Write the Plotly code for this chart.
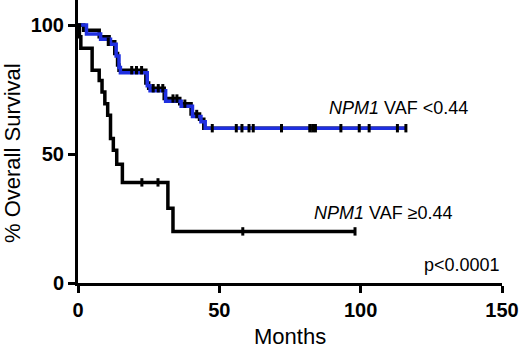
import plotly.graph_objects as go

# ---- data ----
# NPM1 VAF <0.44 (black curve, drawn under the blue one)
low_t = [0, 2, 7.5, 11, 13, 14, 14.5, 24, 25, 30.5, 36, 40, 43, 44.5, 116]
low_s = [100, 98, 95.5, 93.5, 89, 84.5, 82.5, 77.5, 75.5, 71.5, 69.5, 65.5, 63.5, 60, 60]
# blue curve (same group, overlaid)
blue_t = [0, 3, 8, 11.5, 13.5, 14.5, 15, 24.5, 25.5, 31, 36.5, 40.5, 43.5, 45, 116]
blue_s = [100, 96.5, 94.5, 92.5, 88, 83.5, 81.5, 76.5, 74.5, 70.5, 68.5, 64.5, 62.5, 60, 60]
# censored marks, low group
low_cens_t = [10.7, 19, 20.7, 22.5, 26.6, 28.4, 30, 33.6, 35, 37.8, 42,
              47.5, 56, 58, 60.5, 62, 72, 82, 83, 84, 93, 99.5, 103, 113, 116]
low_cens_s = [93.5, 82.5, 82.5, 82.5, 75.5, 75.5, 75.5, 71.5, 71.5, 69.5, 65.5,
              60, 60, 60, 60, 60, 60, 60, 60, 60, 60, 60, 60, 60, 60]

# NPM1 VAF >=0.44
high_t = [0, 0.5, 1, 5, 7.5, 8.5, 9.5, 10.5, 11.5, 12.5, 13.7, 15.7, 31.8, 33.6, 98]
high_s = [100, 95.5, 91, 82.5, 78.5, 74, 69.5, 65, 56, 51.5, 46, 39, 29, 20, 20]
high_cens_t = [22.6, 28.3, 58.3, 98]
high_cens_s = [39, 39, 20, 20]

x_ticks = [0, 50, 100, 150]
y_ticks = [0, 50, 100]

FONT = "Liberation Sans, Arial, Helvetica, sans-serif"

fig = go.Figure()
fig.add_trace(go.Scatter(x=low_t, y=low_s, mode="lines", line_shape="hv",
                         line=dict(color="black", width=3.5), showlegend=False))
fig.add_trace(go.Scatter(x=blue_t, y=blue_s, mode="lines", line_shape="hv",
                         line=dict(color="#1f2fe0", width=3.5), showlegend=False))
fig.add_trace(go.Scatter(x=low_cens_t, y=low_cens_s, mode="markers",
                         marker=dict(symbol="line-ns", size=6,
                                     line=dict(color="black", width=3)),
                         showlegend=False))
fig.add_trace(go.Scatter(x=high_t, y=high_s, mode="lines", line_shape="hv",
                         line=dict(color="black", width=3.5), showlegend=False))
fig.add_trace(go.Scatter(x=high_cens_t, y=high_cens_s, mode="markers",
                         marker=dict(symbol="line-ns", size=6,
                                     line=dict(color="black", width=3)),
                         showlegend=False))

axis_common = dict(showgrid=False, zeroline=False, showline=True, linecolor="black",
                   linewidth=3, ticks="outside", ticklen=7, tickwidth=3, tickcolor="black",
                   automargin=False,
                   tickfont=dict(family=FONT, size=20, color="black", weight="bold"))

fig.update_layout(
    width=520, height=349,
    margin=dict(l=78, r=18, t=0, b=66),
    paper_bgcolor="white", plot_bgcolor="white",
    xaxis=dict(range=[0, 150], tickvals=x_ticks, **axis_common),
    yaxis=dict(range=[0, 109.7], tickvals=y_ticks, **axis_common),
    font=dict(family=FONT, color="black"),
)

fig.add_annotation(text="<i>NPM1</i> VAF &lt;0.44", x=88.1, y=67.8, xref="x", yref="y",
                   xanchor="left", yanchor="middle", showarrow=False,
                   font=dict(family=FONT, size=18, color="black"))
fig.add_annotation(text="<i>NPM1</i> VAF ≥0.44", x=82.8, y=27.1, xref="x", yref="y",
                   xanchor="left", yanchor="middle", showarrow=False,
                   font=dict(family=FONT, size=18, color="black"))
fig.add_annotation(text="p&lt;0.0001", x=150, y=7, xref="x", yref="y",
                   xanchor="right", yanchor="middle", showarrow=False,
                   font=dict(family=FONT, size=18, color="black"))
# axis titles
fig.add_annotation(text="Months", x=0.5, y=-53 / 283, xref="paper", yref="paper",
                   xanchor="center", yanchor="middle", showarrow=False,
                   font=dict(family=FONT, size=22, color="black"))
fig.add_annotation(text="% Overall Survival", x=-66 / 424, y=130 / 283, xref="paper", yref="paper",
                   xanchor="center", yanchor="middle", textangle=-90, showarrow=False,
                   font=dict(family=FONT, size=22, color="black"))

fig.write_html("out.html", config={"displayModeBar": False},
               post_script="document.body.style.margin='0';document.body.style.padding='0';")
